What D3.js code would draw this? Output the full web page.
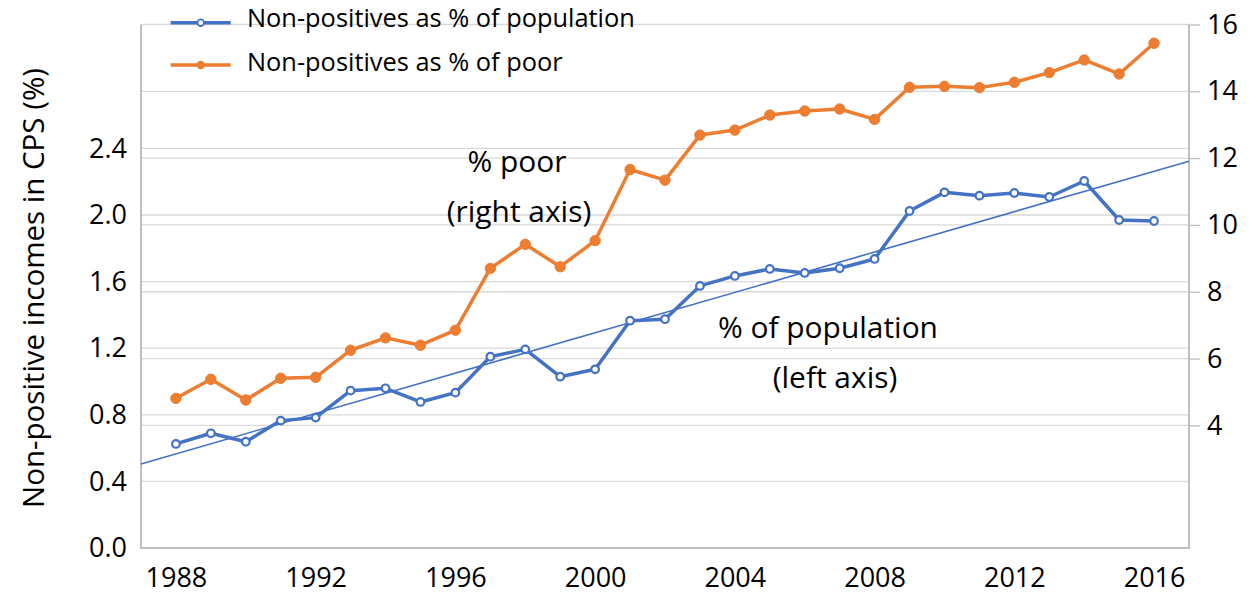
<!DOCTYPE html>
<html><head><meta charset="utf-8">
<script src="https://cdn.jsdelivr.net/npm/d3@7"></script>
<style>
body{margin:0;background:#fff}
svg{display:block}
text{font-family:"Open Sans",sans-serif;fill:#000}
</style>
</head><body>
<svg id="chart" width="1253" height="597"></svg>
<script>
// ---- data ----
const years = [1988,1989,1990,1991,1992,1993,1994,1995,1996,1997,1998,1999,2000,2001,2002,2003,2004,2005,2006,2007,2008,2009,2010,2011,2012,2013,2014,2015,2016];
const pctPopulation = [0.625,0.689,0.638,0.765,0.783,0.945,0.959,0.877,0.933,1.149,1.193,1.029,1.073,1.365,1.374,1.574,1.634,1.676,1.652,1.680,1.736,2.024,2.136,2.116,2.132,2.108,2.204,1.970,1.964];
const pctPoor = [4.81,5.38,4.76,5.41,5.44,6.25,6.62,6.40,6.85,8.70,9.42,8.75,9.53,11.66,11.34,12.69,12.84,13.29,13.41,13.47,13.16,14.12,14.15,14.11,14.27,14.56,14.94,14.52,15.44];
const leftTicks = [0.0,0.4,0.8,1.2,1.6,2.0,2.4];
const rightTicks = [4,6,8,10,12,14,16];
const xTicks = [1988,1992,1996,2000,2004,2008,2012,2016];
const seriesNames = ["Non-positives as % of population","Non-positives as % of poor"];
const yTitle = "Non-positive incomes in CPS (%)";
const annPoor = ["% poor","(right axis)"];
const annPop = ["% of population","(left axis)"];

// ---- layout ----
const W = 1253, H = 597;
const L = 141, R = 1189, T = 24.5, B = 548;
const blue = "#4472C4", orange = "#ED7D31";
const svg = d3.select("#chart");

const x = d3.scaleLinear().domain([1987, 2017]).range([L, R]);
const yL = d3.scaleLinear().domain([0, 3.144]).range([B, T]);
const yR = d3.scaleLinear().domain([0.33, 16]).range([B, T]);

function fit(sel, target){
  const w = sel.node().getComputedTextLength();
  const fs = parseFloat(sel.attr("font-size"));
  sel.attr("font-size", fs * target / w);
  return fs * target / w;
}

// gridlines
const grid = svg.append("g");
grid.selectAll("line.gl").data(leftTicks.filter(d => d > 0)).join("line")
  .attr("x1", L).attr("x2", R).attr("y1", d => yL(d)).attr("y2", d => yL(d))
  .attr("stroke", "#d9d9d9").attr("stroke-width", 1.3);
grid.selectAll("line.gr").data(rightTicks).join("line")
  .attr("x1", L).attr("x2", R).attr("y1", d => yR(d)).attr("y2", d => yR(d))
  .attr("stroke", "#d9d9d9").attr("stroke-width", 1.3);

// frame lines
svg.append("line").attr("x1", L).attr("x2", L).attr("y1", T).attr("y2", B).attr("stroke", "#bfbfbf").attr("stroke-width", 2);
svg.append("line").attr("x1", R).attr("x2", R).attr("y1", T).attr("y2", B).attr("stroke", "#bfbfbf").attr("stroke-width", 2);
svg.append("line").attr("x1", L - 1).attr("x2", R + 1).attr("y1", B).attr("y2", B).attr("stroke", "#bfbfbf").attr("stroke-width", 2);

const tickFont = 27;
// axes
const gL = svg.append("g").attr("transform", `translate(${L},0)`)
  .call(d3.axisLeft(yL).tickValues(leftTicks).tickSize(0).tickPadding(14).tickFormat(d3.format(".1f")));
const gR = svg.append("g").attr("transform", `translate(${R},0)`)
  .call(d3.axisRight(yR).tickValues(rightTicks).tickSize(11).tickPadding(7).tickFormat(d3.format("d")));
const gB = svg.append("g").attr("transform", `translate(0,${B})`)
  .call(d3.axisBottom(x).tickValues(xTicks).tickSize(0).tickPadding(20).tickFormat(d3.format("d")));
[gL, gR, gB].forEach(g => {
  g.select(".domain").remove();
  g.selectAll("text").attr("font-size", tickFont).attr("font-family", '"Open Sans",sans-serif').attr("fill", "#000");
  g.selectAll(".tick line").attr("stroke", "#bfbfbf").attr("stroke-width", 1.3);
});

// y title
const yt = svg.append("text").attr("transform", "translate(32,288) rotate(-90)")
  .attr("text-anchor", "middle").attr("dominant-baseline", "central")
  .attr("font-size", 26).text(yTitle);
fit(yt, 440);

// trend line (least squares on population series)
const n = years.length;
const mx = d3.mean(years), my = d3.mean(pctPopulation);
const slope = d3.sum(years.map((yv, i) => (yv - mx) * (pctPopulation[i] - my))) / d3.sum(years.map(yv => (yv - mx) ** 2));
const icpt = my - slope * mx;
const trendX = x.domain();

// series lines
const lineL = d3.line().x((d, i) => x(years[i])).y(d => yL(d));
const lineR = d3.line().x((d, i) => x(years[i])).y(d => yR(d));
svg.append("path").datum(pctPoor).attr("d", lineR).attr("fill", "none")
  .attr("stroke", orange).attr("stroke-width", 3.5).attr("stroke-linejoin", "round");
svg.append("path").datum(pctPopulation).attr("d", lineL).attr("fill", "none")
  .attr("stroke", blue).attr("stroke-width", 3.5).attr("stroke-linejoin", "round");

svg.append("line")
  .attr("x1", x(trendX[0])).attr("y1", yL(icpt + slope * trendX[0]))
  .attr("x2", x(trendX[1])).attr("y2", yL(icpt + slope * trendX[1]))
  .attr("stroke", blue).attr("stroke-width", 1.6);

// markers
svg.append("g").selectAll("circle").data(pctPoor).join("circle")
  .attr("cx", (d, i) => x(years[i])).attr("cy", d => yR(d)).attr("r", 5.2)
  .attr("fill", orange).attr("stroke", orange).attr("stroke-width", 1);
svg.append("g").selectAll("circle").data(pctPopulation).join("circle")
  .attr("cx", (d, i) => x(years[i])).attr("cy", d => yL(d)).attr("r", 3.8)
  .attr("fill", "#fff").attr("stroke", blue).attr("stroke-width", 2.2);

// annotations
const a1 = svg.append("text").attr("x", 828).attr("y", 326).attr("text-anchor", "middle")
  .attr("dominant-baseline", "central").attr("font-size", 28).text(annPop[0]);
const annFs = fit(a1, 220);
svg.append("text").attr("x", 835).attr("y", 376).attr("text-anchor", "middle")
  .attr("dominant-baseline", "central").attr("font-size", annFs).text(annPop[1]);
svg.append("text").attr("x", 517).attr("y", 160).attr("text-anchor", "middle")
  .attr("dominant-baseline", "central").attr("font-size", annFs).text(annPoor[0]);
svg.append("text").attr("x", 519).attr("y", 210).attr("text-anchor", "middle")
  .attr("dominant-baseline", "central").attr("font-size", annFs).text(annPoor[1]);

// legend
const lg = svg.append("g");
const legY = [22.7, 65];
const legColors = [blue, orange];
seriesNames.forEach((name, i) => {
  lg.append("line").attr("x1", 170.7).attr("x2", 230.7).attr("y1", legY[i]).attr("y2", legY[i])
    .attr("stroke", legColors[i]).attr("stroke-width", 3.5);
  if (i === 0) {
    lg.append("circle").attr("cx", 200.7).attr("cy", legY[i]).attr("r", 3.3)
      .attr("fill", "#fff").attr("stroke", blue).attr("stroke-width", 1.8);
  } else {
    lg.append("circle").attr("cx", 200.7).attr("cy", legY[i]).attr("r", 4.2).attr("fill", orange);
  }
});
const lt0 = lg.append("text").attr("x", 247).attr("y", 27).attr("font-size", 22).text(seriesNames[0]);
const legFs = fit(lt0, 388);
lg.append("text").attr("x", 247).attr("y", 71).attr("font-size", legFs).text(seriesNames[1]);
</script>
</body></html>
